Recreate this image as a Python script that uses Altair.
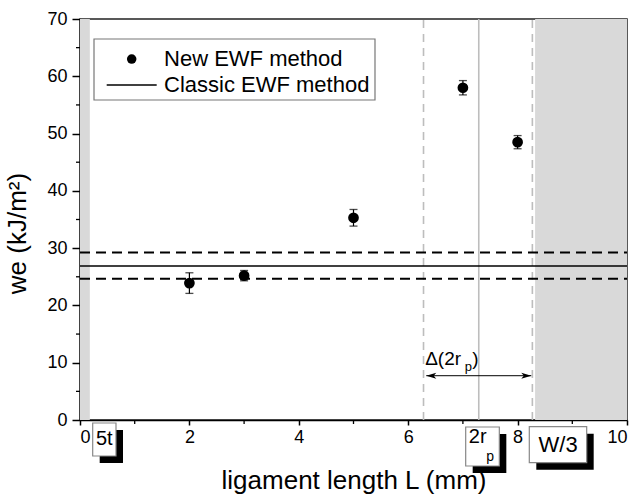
import altair as alt
import pandas as pd

# ---- data ----
L_mm = [2, 3, 5, 7, 8]
we_new = [23.9, 25.2, 35.3, 58.0, 48.5]
we_err = [1.8, 0.9, 1.45, 1.25, 1.15]

classic_mean = 26.9
classic_hi = 29.25
classic_lo = 24.65

# limits: 5t, W/3 and 2rp band
limit_5t = 0.18
limit_w3 = 8.32
rp2 = 7.29
rp2_lo = 6.28
rp2_hi = 8.27

FONT = "Liberation Sans"
W, H = 547, 401

pts = pd.DataFrame({"L": L_mm, "we": we_new,
                    "lo": [v - e for v, e in zip(we_new, we_err)],
                    "hi": [v + e for v, e in zip(we_new, we_err)]})

xs = alt.Scale(domain=[0, 10], nice=False, zero=False)
ys = alt.Scale(domain=[0, 70], nice=False, zero=False)

base = alt.Chart(pts)

# shaded excluded zones
zones = alt.Chart(pd.DataFrame({"x": [0, limit_w3], "x2": [limit_5t, 10]})).mark_rect(
    color="#d9d9d9").encode(
    x=alt.X("x:Q", scale=xs,
            axis=alt.Axis(title="ligament length L (mm)", values=[0, 2, 4, 6, 8, 10],
                          tickSize=5, labelPadding=3, titlePadding=21)),
    x2="x2:Q",
    y=alt.datum(0, scale=ys,
                axis=alt.Axis(title="we (kJ/m²)", values=list(range(0, 71, 10)),
                              tickSize=8, labelPadding=5, titlePadding=16, titleY=214)),
    y2=alt.datum(70),
)

vdash = alt.Chart(pd.DataFrame({"x": [rp2_lo, rp2_hi]})).mark_rule(
    color="#bdbdbd", strokeWidth=1.6, strokeDash=[8, 6]).encode(
    x=alt.X("x:Q", scale=xs), y=alt.datum(0), y2=alt.datum(70))
vsolid = alt.Chart(pd.DataFrame({"x": [rp2]})).mark_rule(
    color="#bdbdbd", strokeWidth=1.6).encode(
    x=alt.X("x:Q", scale=xs), y=alt.datum(0), y2=alt.datum(70))

hsolid = alt.Chart(pd.DataFrame({"y": [classic_mean]})).mark_rule(
    color="black", strokeWidth=1.5).encode(
    y=alt.Y("y:Q", scale=ys), x=alt.datum(0), x2=alt.datum(10))
hdash = alt.Chart(pd.DataFrame({"y": [classic_hi, classic_lo]})).mark_rule(
    color="black", strokeWidth=2, strokeDash=[10, 6]).encode(
    y=alt.Y("y:Q", scale=ys), x=alt.datum(0), x2=alt.datum(10))

# minor ticks
xminor = alt.Chart(pd.DataFrame({"x": [1, 3, 5, 7, 9]})).mark_rule(
    color="black", strokeWidth=1.3).encode(
    x=alt.X("x:Q", scale=xs), y=alt.value(H), y2=alt.value(H + 4))
yminor = alt.Chart(pd.DataFrame({"y": [5, 15, 25, 35, 45, 55, 65]})).mark_rule(
    color="black", strokeWidth=1.3).encode(
    y=alt.Y("y:Q", scale=ys), x=alt.value(0), x2=alt.value(-4))

ebar = base.mark_rule(color="black", strokeWidth=1.2).encode(
    x=alt.X("L:Q", scale=xs), y=alt.Y("lo:Q", scale=ys), y2="hi:Q")
ecap = alt.layer(
    base.mark_tick(orient="horizontal", size=8, thickness=1.3, color="black").encode(
        x=alt.X("L:Q", scale=xs), y=alt.Y("lo:Q", scale=ys)),
    base.mark_tick(orient="horizontal", size=8, thickness=1.3, color="black").encode(
        x=alt.X("L:Q", scale=xs), y=alt.Y("hi:Q", scale=ys)),
)
dots = base.mark_point(filled=True, size=115, color="black", opacity=1).encode(
    x=alt.X("L:Q", scale=xs), y=alt.Y("we:Q", scale=ys))

# legend (drawn)
leg_box = alt.Chart(pd.DataFrame({"a": [0]})).mark_rect(
    fill="white", stroke="#777777", strokeWidth=1.2).encode(
    x=alt.datum(0.256), x2=alt.datum(5.393), y=alt.datum(55.86), y2=alt.datum(66.51))
leg_dot = alt.Chart(pd.DataFrame({"a": [0]})).mark_point(
    filled=True, size=90, color="black", opacity=1).encode(
    x=alt.datum(0.945), y=alt.datum(63.0))
leg_line = alt.Chart(pd.DataFrame({"a": [0]})).mark_rule(
    color="black", strokeWidth=1.5).encode(
    x=alt.datum(0.488), x2=alt.datum(1.402), y=alt.datum(58.48))
leg_text = alt.Chart(pd.DataFrame({"t": ["New EWF method", "Classic EWF method"],
                                   "y": [63.0, 58.48]})).mark_text(
    align="left", baseline="middle", font=FONT, fontSize=22, color="black").encode(
    x=alt.datum(1.536), y=alt.Y("y:Q", scale=ys), text="t:N")

# delta annotation
arrow_line = alt.Chart(pd.DataFrame({"a": [0]})).mark_rule(
    color="black", strokeWidth=1).encode(
    x=alt.datum(6.33), x2=alt.datum(8.25), y=alt.datum(7.73))
arrow_r = alt.Chart(pd.DataFrame({"a": [0]})).mark_point(
    filled=True, size=100, color="black", opacity=1,
    shape="M0,0 L-2,-0.6 L-1.5,0 L-2,0.6 Z").encode(
    x=alt.datum(8.25), y=alt.datum(7.73))
arrow_l = alt.Chart(pd.DataFrame({"a": [0]})).mark_point(
    filled=True, size=100, color="black", opacity=1,
    shape="M0,0 L2,-0.6 L1.5,0 L2,0.6 Z").encode(
    x=alt.datum(6.33), y=alt.datum(7.73))
delta_main = alt.Chart(pd.DataFrame({"t": ["Δ(2r"]})).mark_text(
    align="left", baseline="middle", font=FONT, fontSize=19, color="black").encode(
    x=alt.datum(6.31), y=alt.datum(10.7), text="t:N")
delta_sub = alt.Chart(pd.DataFrame({"t": ["p"]})).mark_text(
    align="center", baseline="middle", font=FONT, fontSize=13, color="black").encode(
    x=alt.datum(7.1), y=alt.datum(9.3), text="t:N")
delta_close = alt.Chart(pd.DataFrame({"t": [")"]})).mark_text(
    align="left", baseline="middle", font=FONT, fontSize=19, color="black").encode(
    x=alt.datum(7.17), y=alt.datum(10.7), text="t:N")

# label boxes below the axis
boxes = pd.DataFrame({"x": [0.232, 7.051, 8.214], "x2": [0.658, 7.666, 9.263],
                      "y": [-0.52, -1.22, -1.17], "y2": [-6.28, -8.03, -7.45]})
shadow = alt.Chart(boxes).mark_rect(
    color="black", xOffset=7, x2Offset=7, yOffset=7, y2Offset=7).encode(
    x=alt.X("x:Q", scale=xs), x2="x2:Q", y=alt.Y("y:Q", scale=ys), y2="y2:Q")
box = alt.Chart(boxes).mark_rect(
    fill="white", stroke="#888888", strokeWidth=1.2).encode(
    x=alt.X("x:Q", scale=xs), x2="x2:Q", y=alt.Y("y:Q", scale=ys), y2="y2:Q")
box_text = alt.Chart(pd.DataFrame({"t": ["5t", "2r", "W/3"],
                                   "x": [0.445, 7.27, 8.74],
                                   "y": [-3.4, -3.0, -4.36],
                                   "s": [20, 20, 22]})).mark_text(
    align="center", baseline="middle", font=FONT, color="black").encode(
    x=alt.X("x:Q", scale=xs), y=alt.Y("y:Q", scale=ys), text="t:N",
    size=alt.Size("s:Q", scale=None, legend=None))
box_sub = alt.Chart(pd.DataFrame({"t": ["p"]})).mark_text(
    align="center", baseline="middle", font=FONT, fontSize=14, color="black").encode(
    x=alt.datum(7.5), y=alt.datum(-6.46), text="t:N")

chart = alt.layer(
    zones, vdash, vsolid, hsolid, hdash, xminor, yminor,
    ebar, ecap, dots,
    leg_box, leg_dot, leg_line, leg_text,
    arrow_line, arrow_r, arrow_l, delta_main, delta_sub, delta_close,
    shadow, box, box_text, box_sub,
).properties(
    width=W, height=H,
    autosize=alt.AutoSizeParams(type="none"),
    padding={"left": 80, "top": 19, "right": 9, "bottom": 78},
).configure_view(
    stroke="#222222", strokeWidth=1.5
).configure_axis(
    grid=False, domainColor="black", domainWidth=1.5, tickColor="black",
    tickWidth=1.5, labelFont=FONT, labelFontSize=18, labelColor="black",
    titleFont=FONT, titleFontSize=26, titleFontWeight="normal", titleColor="black",
)

chart.save("out.html", embed_options={"renderer": "svg", "actions": False})
